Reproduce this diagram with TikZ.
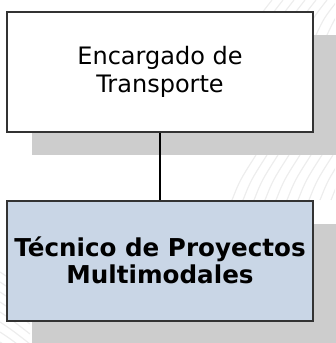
\documentclass[tikz,border=0pt]{standalone}
\usepackage{fontspec}
\setmainfont{DejaVu Sans}
\usetikzlibrary{positioning,shadows}
\definecolor{boxline}{HTML}{333333}
\definecolor{boxblue}{HTML}{C9D6E6}
\definecolor{shadowgray}{HTML}{CDCDCD}
\definecolor{markgray}{HTML}{EDEDED}
\begin{document}
\begin{tikzpicture}[x=1pt,y=-1pt]
\tikzstyle{every node}+=[inner sep=0pt]
\tikzstyle{post}=[draw=boxline,line width=1.8pt,minimum width=306pt,minimum height=120pt,align=center,
  drop shadow={shadow xshift=25pt,shadow yshift=-23pt,fill=shadowgray,opacity=1}]
\tikzstyle{faint}=[markgray,line width=1.2pt]
\useasboundingbox (0,0) rectangle (335,343);
% faint background strokes
\begin{scope}
\clip (230,155) rectangle (335,200);
\foreach \x in {232,243,...,340} \draw [faint] (\x,200) .. controls (\x+8,180) .. (\x+24,155);
\end{scope}
\begin{scope}
\clip (255,0) rectangle (335,35);
\foreach \x in {250,261,...,340} \draw [faint] (\x,35) .. controls (\x+8,18) .. (\x+22,0);
\end{scope}
\begin{scope}
\clip (0,270) rectangle (30,343);
\foreach \y in {262,272,...,350} \draw [faint] (0,\y) .. controls (12,\y+8) .. (30,\y+22);
\end{scope}
\node [post,fill=white,font=\fontsize{24}{28}\selectfont] (encargado) at (160,72) {Encargado de\\Transporte};
\node [post,fill=boxblue,font=\bfseries\fontsize{24.6}{27}\selectfont,below=67pt of encargado] (tecnico) {T\'ecnico de Proyectos\\Multimodales};
\draw [black,line width=1.8pt] (encargado) -- (tecnico);
\end{tikzpicture}
\end{document}
